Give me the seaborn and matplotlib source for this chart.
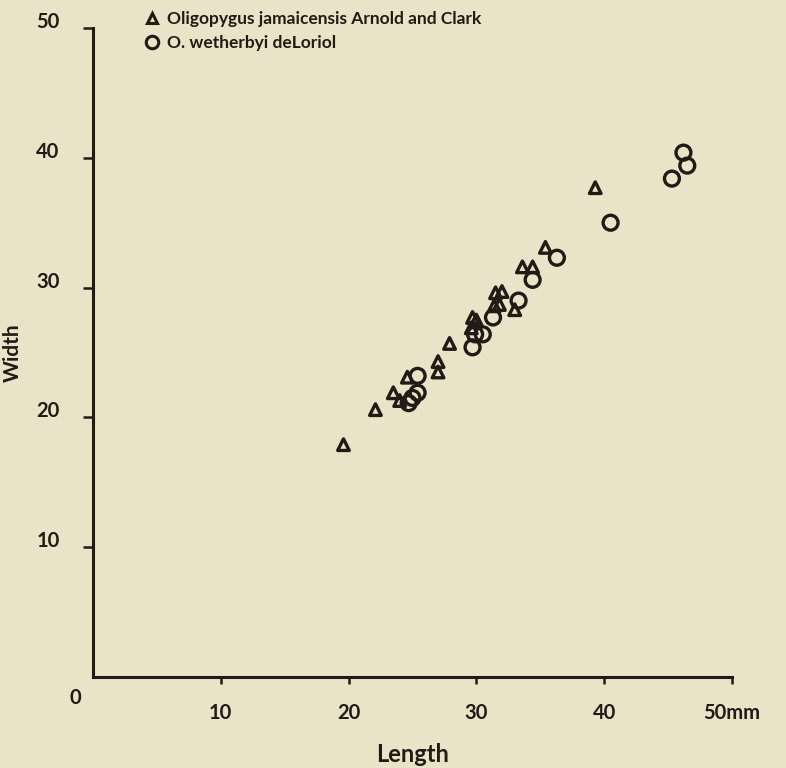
import numpy as np
import pandas as pd
import matplotlib
matplotlib.use("Agg")
import matplotlib.pyplot as plt
import matplotlib.transforms as mtransforms
from matplotlib.lines import Line2D
import seaborn as sns

# Test measurements (mm)
jam_length = [19.6, 22.1, 23.5, 24.0, 24.6, 27.0, 27.0, 27.9, 29.7, 30.0, 29.6,
              31.5, 32.0, 31.4, 31.8, 33.0, 33.6, 34.4, 35.4, 39.3]
jam_width = [17.9, 20.6, 21.9, 21.3, 23.1, 24.3, 23.5, 25.7, 27.7, 27.5, 26.9,
             29.6, 29.7, 28.6, 28.7, 28.3, 31.6, 31.6, 33.1, 37.7]

weth_length = [25.4, 25.4, 25.0, 24.7, 29.9, 29.7, 30.5, 31.3, 33.3, 34.4, 36.3,
               40.5, 45.3, 46.2, 46.5]
weth_width = [23.2, 21.9, 21.5, 21.1, 26.4, 25.4, 26.4, 27.7, 29.0, 30.6, 32.3,
              35.0, 38.4, 40.4, 39.4]

species_jam = "Oligopygus jamaicensis Arnold and Clark"
species_weth = "O. wetherbyi deLoriol"

x_ticks = [10, 20, 30, 40, 50]
x_tick_labels = ["10", "20", "30", "40", "50mm"]
y_ticks = [10, 20, 30, 40, 50]
y_tick_labels = ["10", "20", "30", "40", "50"]

df = pd.DataFrame({
    "Length": jam_length + weth_length,
    "Width": jam_width + weth_width,
    "Species": [species_jam] * len(jam_length) + [species_weth] * len(weth_length),
})

paper = "#e9e4c7"
ink = "#221a15"

sns.set_theme(style="white")
plt.rcParams["font.family"] = ["Lato", "DejaVu Sans"]
plt.rcParams["text.color"] = ink

fig = plt.figure(figsize=(7.86, 7.68), dpi=100, facecolor=paper)
ax = fig.add_axes([0.1183, 0.1185, 0.813, 0.845])
ax.set_facecolor(paper)

sns.scatterplot(data=df[df["Species"] == species_jam], x="Length", y="Width",
                marker="^", s=70, facecolors="none", edgecolor=ink,
                linewidth=2.4, ax=ax, legend=False, zorder=3)
sns.scatterplot(data=df[df["Species"] == species_weth], x="Length", y="Width",
                marker="o", s=115, facecolors="none", edgecolor=ink,
                linewidth=2.4, ax=ax, legend=False, zorder=3)

ax.set_xlim(0, 50)
ax.set_ylim(0, 50)

for side in ["top", "right"]:
    ax.spines[side].set_visible(False)
for side in ["left", "bottom"]:
    ax.spines[side].set_color(ink)
    ax.spines[side].set_linewidth(2.2)

ax.set_xticks(x_ticks)
ax.set_xticklabels(x_tick_labels)
ax.set_yticks(y_ticks)
ax.set_yticklabels(y_tick_labels)
ax.tick_params(axis="x", direction="out", length=5, width=1.8, color=ink,
               labelsize=14.5, labelcolor=ink, pad=14, bottom=True)
ax.tick_params(axis="y", direction="out", length=7, width=1.8, color=ink,
               labelsize=14.5, labelcolor=ink, pad=17, left=True)
for lab in ax.get_xticklabels() + ax.get_yticklabels():
    lab.set_fontweight("bold")

# lift the y labels slightly above their ticks
shift = mtransforms.ScaledTranslation(0, 8 / 100, fig.dpi_scale_trans)
for lab in ax.get_yticklabels():
    lab.set_transform(lab.get_transform() + shift)

ax.text(-1.4, -1.6, "0", ha="center", va="center", fontsize=14.5,
        fontweight="bold", color=ink, clip_on=False)

ax.set_xlabel("Length", fontsize=17, fontweight="bold", color=ink, labelpad=14)
ax.set_ylabel("Width", fontsize=15, fontweight="bold", color=ink, labelpad=10)
ax.grid(False)

handles = [
    Line2D([], [], marker="^", linestyle="none", markersize=7.5,
           markerfacecolor="none", markeredgecolor=ink, markeredgewidth=2.2),
    Line2D([], [], marker="o", linestyle="none", markersize=9,
           markerfacecolor="none", markeredgecolor=ink, markeredgewidth=2.2),
]
leg = fig.legend(handles, [species_jam, species_weth], loc="upper left",
                 bbox_to_anchor=(136 / 786, 1 - 4 / 768), frameon=False,
                 fontsize=12.5, handlelength=1.0, handletextpad=0.4,
                 labelspacing=0.45, borderaxespad=0)
for t in leg.get_texts():
    t.set_fontweight("bold")
    t.set_color(ink)

fig.savefig("out.png", dpi=100, facecolor=paper)
